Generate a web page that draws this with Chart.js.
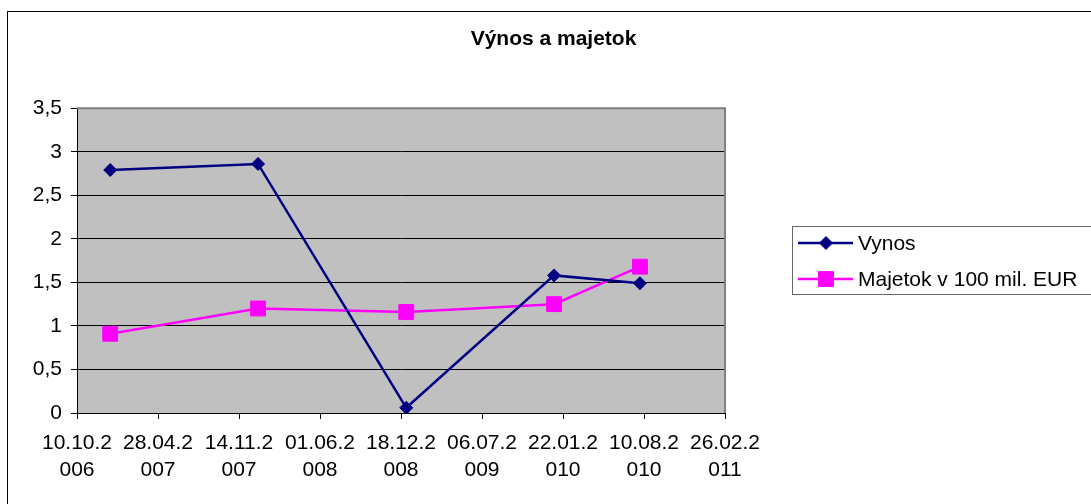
<!DOCTYPE html>
<html>
<head>
<meta charset="utf-8">
<script src="https://cdn.jsdelivr.net/npm/chart.js@4/dist/chart.umd.min.js"></script>
<style>
  body { margin: 0; background: #fff; }
</style>
</head>
<body>
<canvas id="chart" width="1091" height="504"></canvas>
<script>
// Data
const dates = ["31.12.2006", "31.12.2007", "31.12.2008", "31.12.2009", "31.07.2010"];
const vynos = [2.79, 2.86, 0.06, 1.58, 1.49];
const majetok = [0.91, 1.20, 1.16, 1.25, 1.68];
const seriesNames = ["Vynos", "Majetok v 100 mil. EUR"];

// Excel-style date serials for the x axis
function toSerial(s) {
    const [d, m, y] = s.split(".").map(Number);
    return Date.UTC(y, m - 1, d) / 86400000 + 25569;
}
function fromSerial(v) {
    const dt = new Date((v - 25569) * 86400000);
    const dd = String(dt.getUTCDate()).padStart(2, "0");
    const mm = String(dt.getUTCMonth() + 1).padStart(2, "0");
    return dd + "." + mm + "." + dt.getUTCFullYear();
}
const xMin = toSerial("10.10.2006");
const xStep = 200;
const xMax = xMin + 8 * xStep;

const xs = dates.map(toSerial);
const pts = arr => arr.map((v, i) => ({ x: xs[i], y: v }));

Chart.defaults.font.family = "'Liberation Sans', Arial, sans-serif";
Chart.defaults.color = "#000";

// Excel look: grey plot area, outer frame, boxed legend
const excelFrame = {
    id: "excelFrame",
    beforeDraw(chart) {
        const { ctx, chartArea: a } = chart;
        ctx.save();
        ctx.fillStyle = "#C0C0C0";
        ctx.fillRect(a.left, a.top, a.right - a.left, a.bottom - a.top);
        ctx.strokeStyle = "#000";
        ctx.lineWidth = 1;
        ctx.strokeRect(7.5, 11.5, 1200, 600);
        ctx.restore();
    },
    beforeDatasetsDraw(chart) {
        const { ctx, chartArea: a } = chart;
        ctx.save();
        ctx.strokeStyle = "#808080";
        ctx.lineWidth = 2;
        ctx.beginPath();
        ctx.moveTo(a.left, a.top);
        ctx.lineTo(a.right, a.top);
        ctx.lineTo(a.right, a.bottom);
        ctx.stroke();
        ctx.restore();
    },
    afterDraw(chart) {
        const { ctx } = chart;
        ctx.save();
        ctx.strokeStyle = "#666";
        ctx.lineWidth = 1;
        ctx.strokeRect(792.5, 226.5, 400, 68);
        const rows = [243, 279];
        chart.data.datasets.forEach((ds, i) => {
            const y = rows[i];
            ctx.strokeStyle = ds.borderColor;
            ctx.lineWidth = ds.borderWidth;
            ctx.beginPath();
            ctx.moveTo(798, y);
            ctx.lineTo(853, y);
            ctx.stroke();
            ctx.fillStyle = ds.pointBackgroundColor;
            ctx.strokeStyle = ds.pointBorderColor;
            ctx.lineWidth = 1;
            Chart.helpers.drawPoint(ctx, {
                pointStyle: ds.pointStyle,
                radius: ds.pointRadius,
                borderWidth: 1,
                rotation: 0
            }, 826, y);
            ctx.fillStyle = "#000";
            ctx.font = "21px 'Liberation Sans', Arial, sans-serif";
            ctx.textBaseline = "middle";
            ctx.textAlign = "left";
            ctx.fillText(ds.label, 858, y + 1);
        });
        ctx.restore();
    }
};

new Chart(document.getElementById("chart"), {
    type: "line",
    data: {
        datasets: [{
            label: seriesNames[0],
            data: pts(vynos),
            borderColor: "#000080",
            backgroundColor: "#000080",
            pointBackgroundColor: "#000080",
            pointBorderColor: "#000080",
            borderWidth: 2.5,
            pointStyle: "rectRot",
            pointRadius: 6.5,
            pointBorderWidth: 1,
            tension: 0
        }, {
            label: seriesNames[1],
            data: pts(majetok),
            borderColor: "#FF00FF",
            backgroundColor: "#FF00FF",
            pointBackgroundColor: "#FF00FF",
            pointBorderColor: "#FF00FF",
            borderWidth: 2.5,
            pointStyle: "rect",
            pointRadius: 10.5,
            pointBorderWidth: 1,
            tension: 0
        }]
    },
    options: {
        responsive: false,
        animation: false,
        layout: { padding: { left: 16, right: 0, top: 0, bottom: 0 } },
        plugins: {
            legend: { display: false },
            tooltip: { enabled: false },
            title: {
                display: true,
                text: "Výnos a majetok",
                font: { size: 21, weight: "bold" },
                color: "#000",
                padding: { top: 27, bottom: 56 }
            }
        },
        scales: {
            x: {
                type: "linear",
                min: xMin,
                max: xMax,
                afterFit(s) { s.height = 91; },
                ticks: {
                    stepSize: xStep,
                    autoSkip: false,
                    maxRotation: 0,
                    padding: 11,
                    font: { size: 21, lineHeight: "27px" },
                    callback(v) {
                        const s = fromSerial(v);
                        return [s.slice(0, 7), s.slice(7)];
                    }
                },
                grid: { drawOnChartArea: false, color: "#000", tickLength: 6 },
                border: { color: "#000", width: 1 }
            },
            y: {
                min: 0,
                max: 3.5,
                afterFit(s) { s.width = 61; },
                ticks: {
                    stepSize: 0.5,
                    padding: 9,
                    font: { size: 21 },
                    callback: v => String(v).replace(".", ",")
                },
                grid: {
                    color: c => (c.tick && c.tick.value === 3.5) ? "rgba(0,0,0,0)" : "#000",
                    tickColor: "#000",
                    tickLength: 6
                },
                border: { color: "#000", width: 1 }
            },
            spacer: {
                type: "linear",
                position: "right",
                afterFit(s) { s.width = 366; },
                ticks: { display: false },
                grid: { display: false },
                border: { display: false }
            }
        }
    },
    plugins: [excelFrame]
});
</script>
</body>
</html>
